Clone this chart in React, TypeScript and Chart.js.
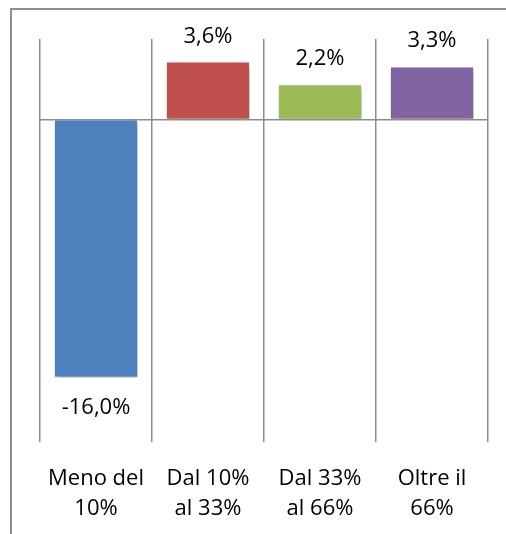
import React, { useEffect, useRef } from "react";
import { Chart, registerables } from "chart.js";

Chart.register(...registerables);

const categories: string[][] = [
  ["Meno del", "10%"],
  ["Dal 10%", "al 33%"],
  ["Dal 33%", "al 66%"],
  ["Oltre il", "66%"],
];
const values: number[] = [-16.0, 3.6, 2.2, 3.3];
const barColors: string[] = ["#4F81BD", "#C0504D", "#9BBB59", "#8064A2"];
const yMin = -20;
const yMax = 5;

const FONT = "'Open Sans', 'Liberation Sans', sans-serif";
const GRID = "#8c8c8c";

const fmt = (v: number) => v.toFixed(1).replace(".", ",") + "%";

const framePlugin = {
  id: "frame",
  beforeDraw(chart: any) {
    const ctx = chart.ctx;
    ctx.save();
    ctx.fillStyle = "#fff";
    ctx.fillRect(0, 0, chart.width, chart.height);
    ctx.strokeStyle = "#8f8f8f";
    ctx.lineWidth = 2;
    ctx.beginPath();
    ctx.moveTo(11, chart.height);
    ctx.lineTo(11, 9);
    ctx.lineTo(chart.width, 9);
    ctx.stroke();
    ctx.restore();
  },
};

const shadowPlugin = {
  id: "barShadow",
  beforeDatasetsDraw(chart: any) {
    const ctx = chart.ctx;
    ctx.save();
    ctx.shadowColor = "rgba(0,0,0,0.35)";
    ctx.shadowBlur = 5;
    ctx.shadowOffsetX = 1;
    ctx.shadowOffsetY = 3;
  },
  afterDatasetsDraw(chart: any) {
    chart.ctx.restore();
  },
};

const labelPlugin = {
  id: "valueLabels",
  afterDraw(chart: any) {
    const ctx = chart.ctx;
    const meta = chart.getDatasetMeta(0);
    ctx.save();
    ctx.font = `22px ${FONT}`;
    ctx.fillStyle = "#000";
    ctx.textAlign = "center";
    ctx.textBaseline = "alphabetic";
    meta.data.forEach((el: any, i: number) => {
      const v = values[i];
      const txt = fmt(v);
      if (v >= 0) {
        ctx.fillText(txt, el.x, el.y - 19);
      } else {
        ctx.fillText(txt, el.x, el.y + 36);
      }
    });
    ctx.restore();
  },
};

export default function App() {
  const ref = useRef<HTMLCanvasElement | null>(null);

  useEffect(() => {
    if (!ref.current) return;
    const chart = new Chart(ref.current, {
      type: "bar",
      data: {
        labels: categories,
        datasets: [
          {
            data: values,
            backgroundColor: barColors,
            borderColor: "rgba(255,255,255,0.6)",
            borderWidth: 1,
            barPercentage: 0.75,
            categoryPercentage: 1,
          },
        ],
      },
      options: {
        responsive: false,
        animation: false,
        layout: { padding: { top: 39, right: 18, left: 0, bottom: 0 } },
        plugins: {
          legend: { display: false },
          tooltip: { enabled: false },
          title: { display: false },
        },
        scales: {
          x: {
            grid: {
              offset: true,
              color: GRID,
              lineWidth: 1.5,
              drawTicks: false,
            },
            border: { display: false },
            ticks: {
              color: "#000",
              padding: 21,
              font: { family: FONT, size: 22, lineHeight: 1.4 },
              maxRotation: 0,
              autoSkip: false,
            },
            afterFit: (scale: any) => {
              scale.height = 534 - 442;
            },
          },
          y: {
            min: yMin,
            max: yMax,
            ticks: { display: false, stepSize: 5 },
            border: { display: false },
            grid: {
              drawTicks: false,
              lineWidth: 1.5,
              color: (c: any) =>
                c.tick && c.tick.value === 0 ? GRID : "rgba(0,0,0,0)",
            },
            afterFit: (scale: any) => {
              scale.width = 40;
            },
          },
        },
      },
      plugins: [framePlugin, shadowPlugin, labelPlugin],
    });
    return () => chart.destroy();
  }, []);

  return (
    <div
      style={{
        position: "fixed",
        left: 0,
        top: 0,
        width: 506,
        height: 534,
        overflow: "hidden",
        background: "#fff",
      }}
    >
      <canvas
        ref={ref}
        width={506}
        height={534}
        style={{ position: "absolute", left: 0, top: 0, width: 506, height: 534 }}
      />
    </div>
  );
}
